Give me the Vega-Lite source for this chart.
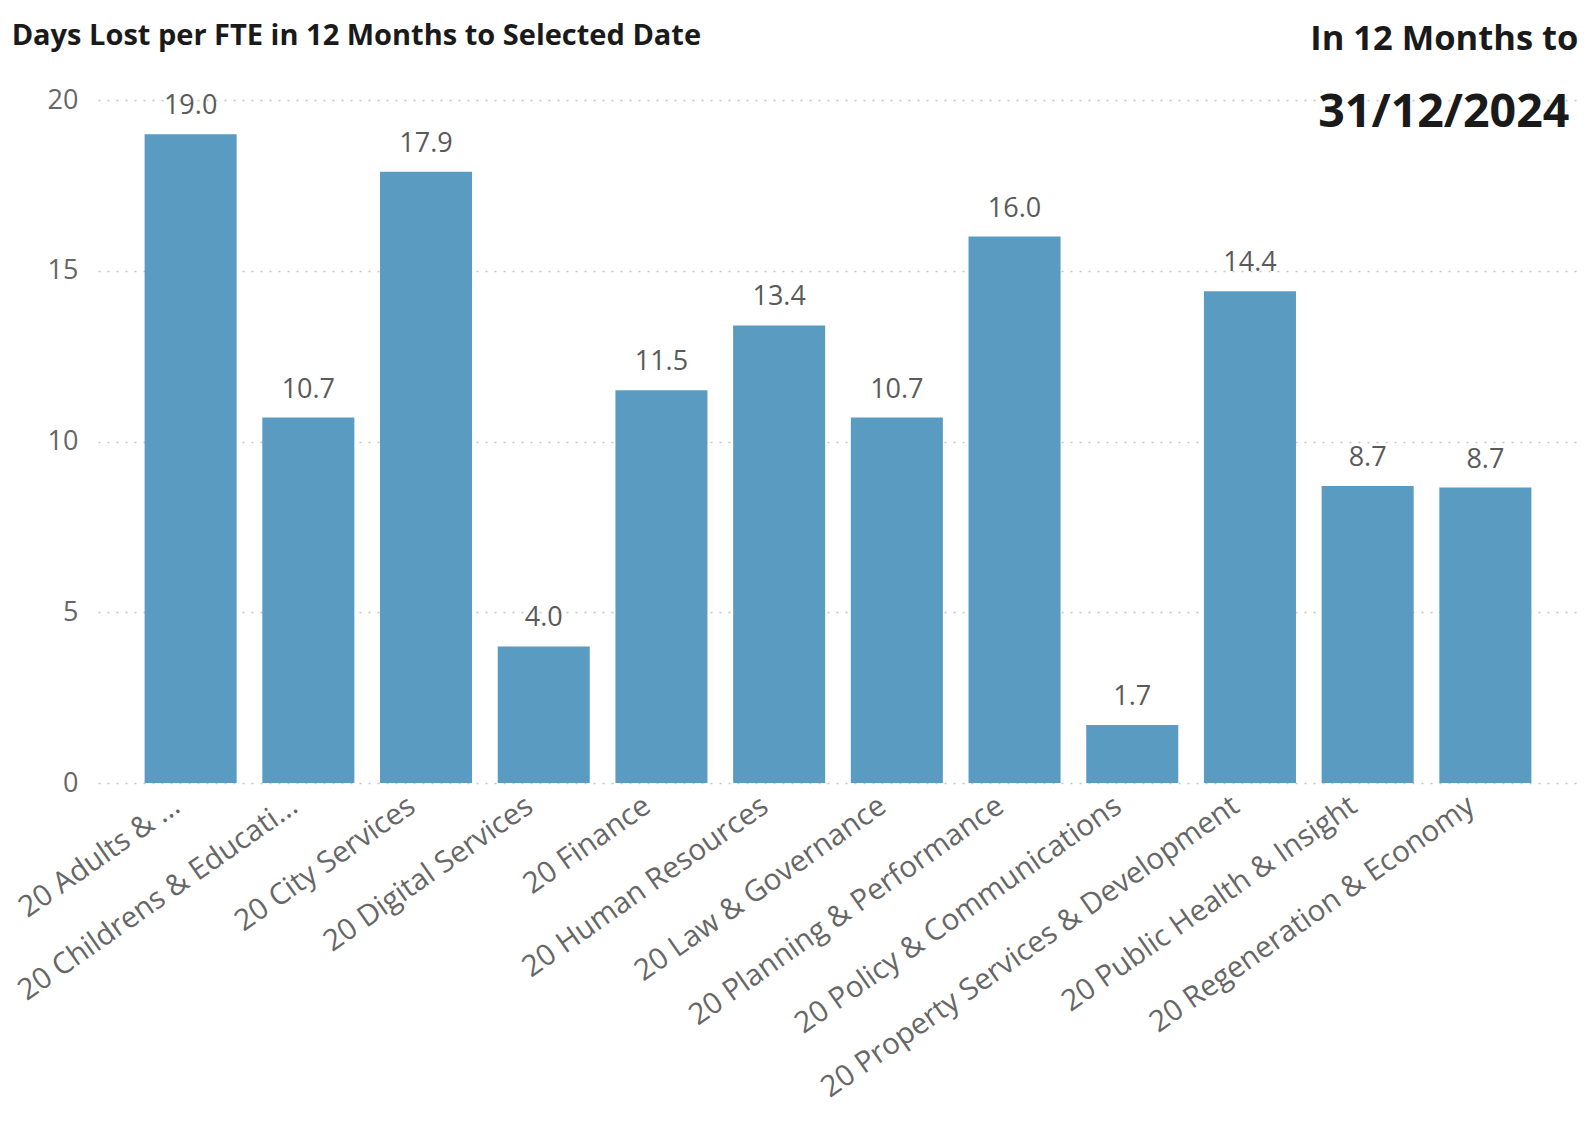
{
  "$schema": "https://vega.github.io/schema/vega-lite/v6.json",
  "width": 1480,
  "height": 683,
  "autosize": {"type": "none"},
  "padding": {"left": 98, "top": 100, "right": 10, "bottom": 364},
  "background": "white",
  "data": {
    "values": [
      {"dept": "20 Adults & ...", "days": 19.0},
      {"dept": "20 Childrens & Educati...", "days": 10.7},
      {"dept": "20 City Services", "days": 17.9},
      {"dept": "20 Digital Services", "days": 4.0},
      {"dept": "20 Finance", "days": 11.5},
      {"dept": "20 Human Resources", "days": 13.4},
      {"dept": "20 Law & Governance", "days": 10.7},
      {"dept": "20 Planning & Performance", "days": 16.0},
      {"dept": "20 Policy & Communications", "days": 1.7},
      {"dept": "20 Property Services & Development", "days": 14.4},
      {"dept": "20 Public Health & Insight", "days": 8.7},
      {"dept": "20 Regeneration & Economy", "days": 8.65}
    ]
  },
  "encoding": {
    "x": {
      "field": "dept",
      "type": "nominal",
      "sort": null,
      "scale": {"paddingInner": 0.218, "paddingOuter": 0.396},
      "axis": {
        "title": null,
        "labelAngle": -35,
        "labelFont": "Open Sans",
        "labelFontSize": 29.5,
        "labelColor": "#666666",
        "labelPadding": 8,
        "labelOffset": -22,
        "labelLimit": 700,
        "domain": false,
        "ticks": false,
        "grid": false
      }
    },
    "y": {
      "field": "days",
      "type": "quantitative",
      "scale": {"domain": [0, 20]},
      "axis": {
        "title": null,
        "values": [0, 5, 10, 15, 20],
        "labelFont": "Open Sans",
        "labelFontSize": 27,
        "labelColor": "#666666",
        "labelPadding": 20,
        "domain": false,
        "ticks": false,
        "grid": true,
        "gridColor": "#c4c4c4",
        "gridDash": [2, 7],
        "gridWidth": 1.5
      }
    }
  },
  "layer": [
    {"mark": {"type": "bar", "color": "#5a9bc2"}},
    {
      "mark": {"type": "text", "baseline": "alphabetic", "dy": -20, "font": "Open Sans", "fontSize": 27, "color": "#5a5a5a"},
      "encoding": {"text": {"field": "days", "type": "quantitative", "format": ".1f"}}
    },
    {
      "transform": [{"filter": "datum.dept === '20 Adults & ...'"}],
      "mark": {"type": "text", "align": "left", "baseline": "alphabetic", "font": "Open Sans", "fontSize": 29, "fontWeight": "bold", "color": "#1a1a1a", "dx": -179, "dy": -55},
      "encoding": {"y": {"value": 0}, "text": {"value": "Days Lost per FTE in 12 Months to Selected Date"}}
    },
    {
      "transform": [{"filter": "datum.dept === '20 Regeneration & Economy'"}],
      "mark": {"type": "text", "align": "right", "baseline": "alphabetic", "font": "Open Sans", "fontSize": 34.5, "fontWeight": "bold", "color": "#1a1a1a", "dx": 93, "dy": -50},
      "encoding": {"y": {"value": 0}, "text": {"value": "In 12 Months to"}}
    },
    {
      "transform": [{"filter": "datum.dept === '20 Regeneration & Economy'"}],
      "mark": {"type": "text", "align": "right", "baseline": "alphabetic", "font": "Open Sans", "fontSize": 46.5, "fontWeight": "bold", "color": "#1a1a1a", "dx": 84, "dy": 27},
      "encoding": {"y": {"value": 0}, "text": {"value": "31/12/2024"}}
    }
  ],
  "config": {"view": {"stroke": null}}
}
